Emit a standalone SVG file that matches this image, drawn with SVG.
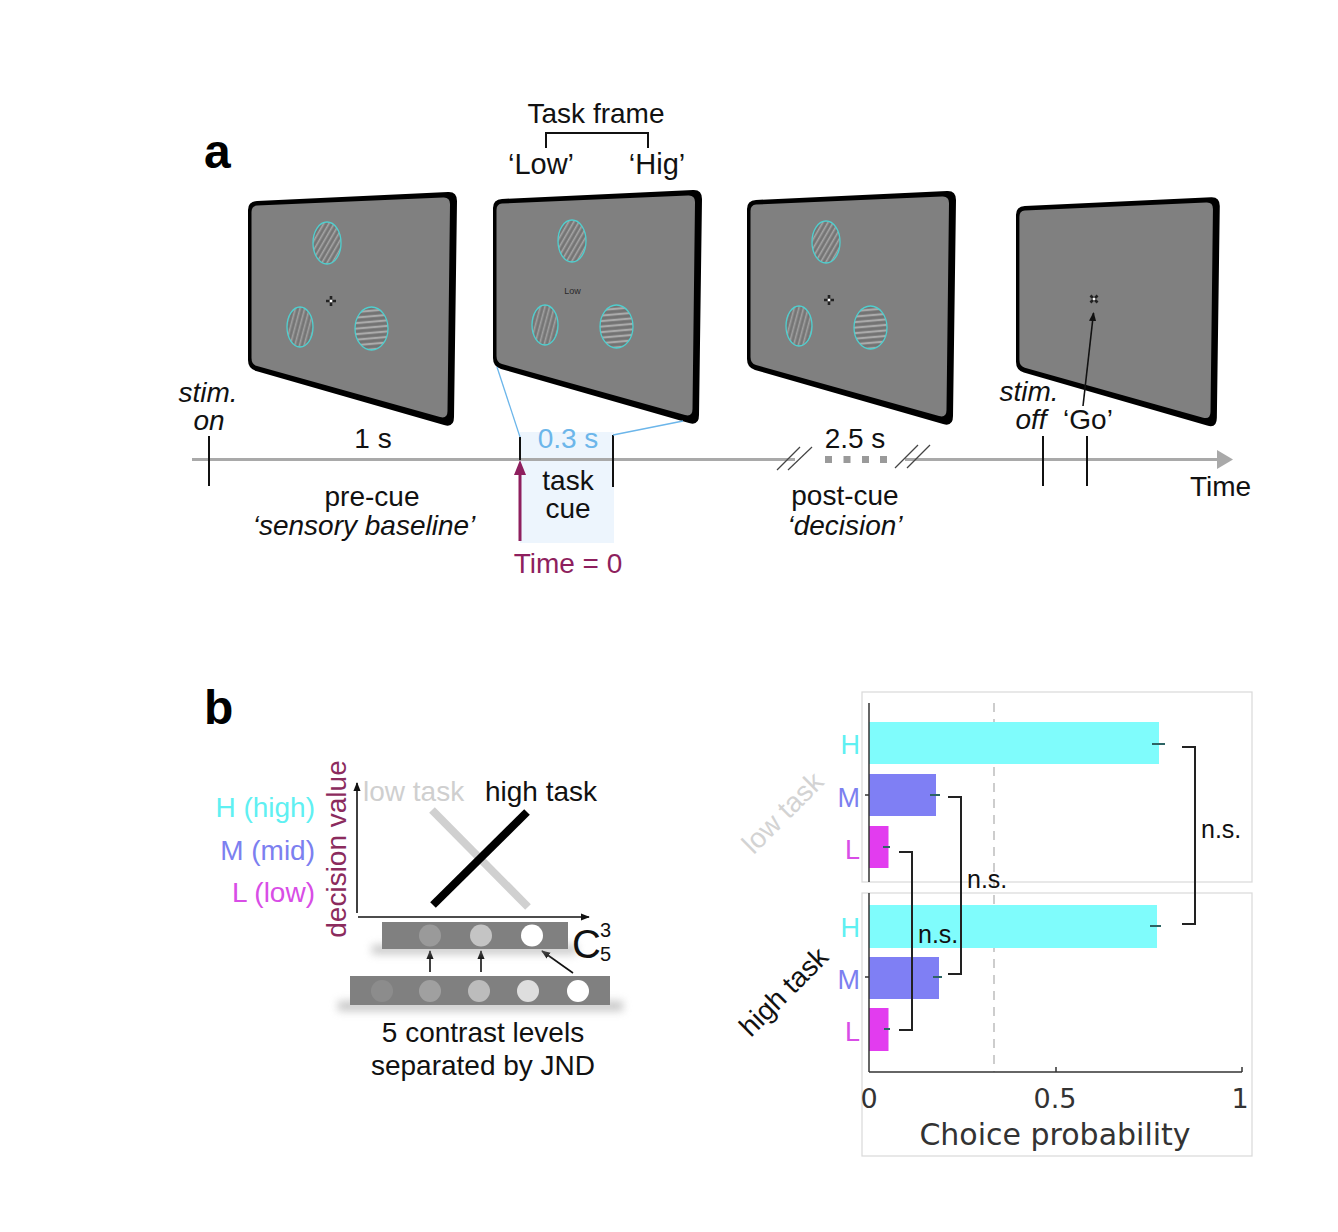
<svg xmlns="http://www.w3.org/2000/svg" width="1338" height="1232" viewBox="0 0 1338 1232">
<style>
  text { font-family: "Liberation Sans", Arial, Helvetica, sans-serif; fill: #111; }
  .f28 { font-size: 28px; }
  .it { font-style: italic; }
  .mid { text-anchor: middle; }
  .end { text-anchor: end; }
  .lbl { font-size: 48px; font-weight: bold; fill: #000; }
  .tick { stroke: #111; stroke-width: 2; }
  .slash { stroke: #444; stroke-width: 1.2; }
  .ring { stroke: #4fcfcf; stroke-width: 1.3; }
  .tl { stroke: #a9a9a9; stroke-width: 3; }
  .blue { stroke: #6cb6ea; stroke-width: 1.3; fill: none; }
  .ax { stroke: #111; stroke-width: 1.6; fill: none; }
  .chart { font-family: "DejaVu Sans", sans-serif; fill: #333; }
  .bk { fill: none; stroke: #222; stroke-width: 2; }
  .err { stroke: #2d6464; stroke-width: 2; }
  .frame { fill: none; stroke: #d9d9d9; stroke-width: 1.2; }
</style>
<defs>
  <pattern id="grA" width="4.5" height="10" patternUnits="userSpaceOnUse" patternTransform="rotate(30)">
    <rect width="4.5" height="10" fill="#7e7e7e"/>
    <rect x="0" width="1.3" height="10" fill="#a6a6a6"/>
    <rect x="2.4" width="1.1" height="10" fill="#707070"/>
  </pattern>
  <pattern id="grB" width="4.5" height="10" patternUnits="userSpaceOnUse" patternTransform="rotate(15)">
    <rect width="4.5" height="10" fill="#7e7e7e"/>
    <rect x="0" width="1.3" height="10" fill="#a0a0a0"/>
    <rect x="2.4" width="1.1" height="10" fill="#727272"/>
  </pattern>
  <pattern id="grC" width="5.5" height="10" patternUnits="userSpaceOnUse" patternTransform="rotate(85)">
    <rect width="5.5" height="10" fill="#7e7e7e"/>
    <rect x="0" width="1.8" height="10" fill="#acacac"/>
    <rect x="3" width="1.3" height="10" fill="#6e6e6e"/>
  </pattern>
  <path id="scrOuter" fill="#000" d="M 257,201 L 448,192 Q 457,191.5 457,201 L 454,417 Q 454,428 444,425 L 256,371 Q 248,368.5 248,360 L 248,210 Q 248,201.5 257,201 Z"/>
  <path id="scrInner" fill="#808080" d="M 257,205.5 L 443,197.5 Q 450,197 450,204 L 447.5,411 Q 447.5,419 440,417 L 257,366 Q 251.5,364.5 251.5,358 L 251.5,212 Q 251.5,206 257,205.5 Z"/>
  <g id="gratings">
    <ellipse cx="327" cy="243" rx="14" ry="21" fill="url(#grA)" class="ring"/>
    <ellipse cx="300" cy="327" rx="13" ry="20" fill="url(#grB)" class="ring"/>
    <ellipse cx="371.5" cy="328.5" rx="16.5" ry="21.5" fill="url(#grC)" class="ring"/>
  </g>
  <g id="fix">
    <path d="M -5,0 H 5 M 0,-5 V 5" stroke="#222" stroke-width="2.6"/>
    <rect x="-1.3" y="-1.3" width="2.6" height="2.6" fill="#fff"/>
  </g>
  <marker id="ahK" viewBox="0 0 10 10" refX="9" refY="5" markerWidth="9" markerHeight="9" markerUnits="userSpaceOnUse" orient="auto">
    <path d="M0,1 L10,5 L0,9 Z" fill="#111"/>
  </marker>
  <filter id="soft" x="-20%" y="-200%" width="140%" height="500%">
    <feGaussianBlur stdDeviation="4"/>
  </filter>
</defs>

<rect width="1338" height="1232" fill="#fff"/>

<!-- Panel a -->
<text class="lbl" x="204" y="168">a</text>

<g id="taskframe">
  <text class="mid" x="596" y="123" font-size="28">Task frame</text>
  <path d="M546,148 V133 H648 V148" fill="none" stroke="#111" stroke-width="2"/>
  <text class="mid" x="541" y="174" font-size="29">‘Low’</text>
  <text class="mid" x="657" y="174" font-size="29">‘Hig’</text>
</g>

<g id="cuebox">
  <rect x="520" y="432" width="94" height="111" fill="#edf5fd"/>
</g>

<g id="screen1">
  <use href="#scrOuter"/>
  <use href="#scrInner"/>
  <use href="#gratings"/>
  <use href="#fix" transform="translate(331,301)"/>
</g>
<g id="screen2" transform="translate(245,-2)">
  <use href="#scrOuter"/>
  <use href="#scrInner"/>
  <use href="#gratings"/>
  <text class="mid" x="327.5" y="296" font-size="9" style="fill:#2a2a2a">Low</text>
</g>
<g id="screen3" transform="translate(499,-1)">
  <use href="#scrOuter"/>
  <use href="#scrInner"/>
  <use href="#gratings"/>
  <use href="#fix" transform="translate(330,301)"/>
</g>
<g id="screen4">
  <g transform="translate(1016,206) scale(0.975,0.98) translate(-248,-201)">
    <use href="#scrOuter"/>
    <use href="#scrInner"/>
  </g>
  <use href="#fix" transform="translate(1094,299) rotate(45)"/>
</g>

<g id="timeline">
  <line class="tl" x1="192" y1="459.5" x2="795" y2="459.5"/>
  <line class="tl" x1="905" y1="459.5" x2="1220" y2="459.5"/>
  <polygon points="1217,450 1233,459.5 1217,469" fill="#a9a9a9"/>
  <line class="slash" x1="777" y1="470" x2="800" y2="447"/>
  <line class="slash" x1="788" y1="470" x2="812" y2="447"/>
  <line class="slash" x1="895" y1="468" x2="918" y2="445"/>
  <line class="slash" x1="907" y1="468" x2="930" y2="445"/>
  <g fill="#9a9a9a">
    <rect x="825" y="456" width="7" height="7"/>
    <rect x="843.5" y="456" width="7" height="7"/>
    <rect x="862" y="456" width="7" height="7"/>
    <rect x="880" y="456" width="7" height="7"/>
  </g>
  <line class="tick" x1="209" y1="436" x2="209" y2="486"/>
  <line class="tick" x1="520" y1="437" x2="520" y2="460"/>
  <line class="tick" x1="613" y1="435" x2="613" y2="487"/>
  <line class="tick" x1="1043" y1="436" x2="1043" y2="486"/>
  <line class="tick" x1="1087" y1="436" x2="1087" y2="486"/>
</g>

<g id="timeline-labels">
  <text class="mid f28 it" x="208" y="402">stim.</text>
  <text class="mid f28 it" x="209" y="430">on</text>
  <text class="mid f28" x="373" y="448">1 s</text>
  <text class="mid f28" x="568" y="448" style="fill:#6cb6ea">0.3 s</text>
  <text class="mid f28" x="372" y="506">pre-cue</text>
  <text class="mid f28 it" x="364" y="535">‘sensory baseline’</text>
  <text class="mid f28" x="568" y="490">task</text>
  <text class="mid f28" x="568" y="518">cue</text>
  <text class="mid f28" x="568" y="573" style="fill:#8e1f5e">Time = 0</text>
  <text class="mid f28" x="855" y="448">2.5 s</text>
  <text class="mid f28" x="845" y="505">post-cue</text>
  <text class="mid f28 it" x="845" y="535">‘decision’</text>
  <text class="mid f28 it" x="1029" y="401">stim.</text>
  <text class="mid f28 it" x="1031" y="429">off</text>
  <text class="mid f28" x="1088" y="429">‘Go’</text>
  <text class="f28" x="1190" y="496">Time</text>
</g>

<g id="connectors">
  <line class="blue" x1="497" y1="367" x2="520" y2="437"/>
  <line class="blue" x1="613" y1="435" x2="683" y2="421"/>
  <line x1="520" y1="541" x2="520" y2="474" stroke="#8e1f5e" stroke-width="3"/>
  <polygon points="514,475 520,460 526,475" fill="#8e1f5e"/>
  <line x1="1083" y1="406" x2="1093.5" y2="313" stroke="#111" stroke-width="1.6" marker-end="url(#ahK)"/>
  <line x1="430" y1="972" x2="430" y2="951" stroke="#111" stroke-width="1.6" marker-end="url(#ahK)"/>
  <line x1="481" y1="972" x2="481" y2="951" stroke="#111" stroke-width="1.6" marker-end="url(#ahK)"/>
  <line x1="573" y1="973" x2="542" y2="951" stroke="#111" stroke-width="1.6" marker-end="url(#ahK)"/>
</g>

<!-- Panel b -->
<text class="lbl" x="204" y="724">b</text>

<g id="levels-legend">
  <text class="end f28" x="315" y="817" style="fill:#5ff0f2">H (high)</text>
  <text class="end f28" x="315" y="860" style="fill:#7c80f0">M (mid)</text>
  <text class="end f28" x="315" y="902" style="fill:#d84de6">L (low)</text>
  <text class="mid f28" transform="translate(346,849) rotate(-90)" x="0" y="0" style="fill:#8b2b5d">decision value</text>
</g>

<g id="decision-plot">
  <line class="ax" x1="357" y1="913" x2="357" y2="783" marker-end="url(#ahK)"/>
  <line class="ax" x1="358" y1="917" x2="589" y2="917" marker-end="url(#ahK)"/>
  <text class="f28" x="363" y="801" style="fill:#cfcfcf">low task</text>
  <text class="f28" x="485" y="801">high task</text>
  <line x1="432" y1="810" x2="528" y2="907" stroke="#d0d0d0" stroke-width="8"/>
  <line x1="433" y1="905" x2="527" y2="812" stroke="#000" stroke-width="8"/>
</g>

<g id="bar-selected">
  <rect x="372" y="945" width="205" height="9" fill="#9a9a9a" opacity="0.55" filter="url(#soft)"/>
  <rect x="382" y="922" width="186" height="27" fill="#808080"/>
  <circle cx="430" cy="935.5" r="11" fill="#9a9a9a"/>
  <circle cx="481" cy="935.5" r="11" fill="#c4c4c4"/>
  <circle cx="532" cy="935.5" r="11" fill="#ffffff"/>
  <text x="572" y="958" font-size="40">C</text>
  <text x="600" y="937" font-size="20">3</text>
  <text x="600" y="961" font-size="20">5</text>
</g>

<g id="bar-all">
  <rect x="338" y="1001" width="285" height="10" fill="#9a9a9a" opacity="0.55" filter="url(#soft)"/>
  <rect x="350" y="976" width="260" height="29" fill="#808080"/>
  <circle cx="382" cy="991" r="11" fill="#8c8c8c"/>
  <circle cx="430" cy="991" r="11" fill="#a0a0a0"/>
  <circle cx="479" cy="991" r="11" fill="#bcbcbc"/>
  <circle cx="528" cy="991" r="11" fill="#dedede"/>
  <circle cx="578" cy="991" r="11" fill="#ffffff"/>
  <text class="mid f28" x="483" y="1042">5 contrast levels</text>
  <text class="mid f28" x="483" y="1075">separated by JND</text>
</g>

<g id="chart">
  <rect class="frame" x="862" y="692" width="390" height="190"/>
  <rect class="frame" x="862" y="893" width="390" height="263"/>
  <line x1="994" y1="703" x2="994" y2="1072" stroke="#bdbdbd" stroke-width="1.5" stroke-dasharray="9,7"/>

  <g id="bars-low">
    <rect x="869" y="722" width="290" height="42" fill="#7ffcfc"/>
    <rect x="869" y="774" width="67" height="42" fill="#7f7ff4"/>
    <rect x="869" y="826" width="19.5" height="42" fill="#e23cef"/>
  </g>
  <g id="bars-high">
    <rect x="869" y="905" width="288" height="43" fill="#7ffcfc"/>
    <rect x="869" y="957" width="70" height="42" fill="#7f7ff4"/>
    <rect x="869" y="1008" width="19.5" height="43" fill="#e23cef"/>
  </g>
  <g id="errors">
    <line class="err" x1="1152" y1="744" x2="1165" y2="744"/>
    <line class="err" x1="930" y1="795" x2="940" y2="795"/>
    <line class="err" x1="883" y1="847" x2="890" y2="847"/>
    <line class="err" x1="1150" y1="926" x2="1161" y2="926"/>
    <line class="err" x1="933" y1="977" x2="942" y2="977"/>
    <line class="err" x1="884" y1="1029" x2="890" y2="1029"/>
  </g>
  <g id="axes">
    <line x1="869" y1="703" x2="869" y2="882" stroke="#333" stroke-width="1.5"/>
    <line x1="869" y1="893" x2="869" y2="1072" stroke="#333" stroke-width="1.5"/>
    <line x1="865" y1="795" x2="869" y2="795" stroke="#333" stroke-width="1.5"/>
    <line x1="865" y1="977" x2="869" y2="977" stroke="#333" stroke-width="1.5"/>
    <line x1="869" y1="1072" x2="1242" y2="1072" stroke="#333" stroke-width="1.5"/>
    <path d="M1056,1072 V1067 M1242,1072 V1067" stroke="#333" stroke-width="1.5"/>
    <text class="chart mid" x="869" y="1108" font-size="27">0</text>
    <text class="chart mid" x="1055" y="1108" font-size="27">0.5</text>
    <text class="chart mid" x="1240" y="1108" font-size="27">1</text>
    <text class="chart mid" x="1055" y="1145" font-size="30">Choice probability</text>
  </g>
  <g id="chart-labels">
    <text class="end" x="860" y="754" font-size="27" style="fill:#5ff0f2">H</text>
    <text class="end" x="860" y="807" font-size="27" style="fill:#7c80f0">M</text>
    <text class="end" x="860" y="859" font-size="27" style="fill:#d84de6">L</text>
    <text class="end" x="860" y="937" font-size="27" style="fill:#5ff0f2">H</text>
    <text class="end" x="860" y="989" font-size="27" style="fill:#7c80f0">M</text>
    <text class="end" x="860" y="1041" font-size="27" style="fill:#d84de6">L</text>
    <text class="mid" transform="translate(783,813) rotate(-45)" x="0" y="9" font-size="28" style="fill:#d3d3d3">low task</text>
    <text class="mid" transform="translate(784,992) rotate(-45)" x="0" y="9" font-size="28">high task</text>
  </g>
  <g id="brackets">
    <path class="bk" d="M1182,747 H1195 V924 H1182"/>
    <path class="bk" d="M948,797 H961 V974 H948"/>
    <path class="bk" d="M899,852 H912 V1030 H899"/>
    <text x="1201" y="838" font-size="25">n.s.</text>
    <text x="967" y="888" font-size="25">n.s.</text>
    <text x="918" y="943" font-size="25">n.s.</text>
  </g>
</g>
</svg>
